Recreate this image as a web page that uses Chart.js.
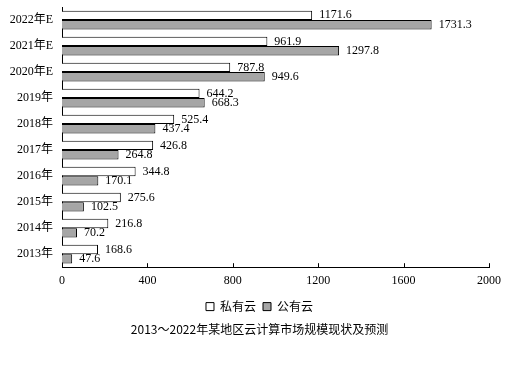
<!DOCTYPE html>
<html>
<head>
<meta charset="utf-8">
<script src="https://cdn.jsdelivr.net/npm/chart.js@4"></script>
<style>
  html, body { margin: 0; padding: 0; background: #fff; }
  #wrap { width: 519px; height: 367px; }
</style>
</head>
<body>
<div id="wrap"><canvas id="canva"></canvas></div>
<script>
const years = ["2022年E", "2021年E", "2020年E", "2019年", "2018年", "2017年", "2016年", "2015年", "2014年", "2013年"];
const privateCloud = [1171.6, 961.9, 787.8, 644.2, 525.4, 426.8, 344.8, 275.6, 216.8, 168.6];
const publicCloud = [1731.3, 1297.8, 949.6, 668.3, 437.4, 264.8, 170.1, 102.5, 70.2, 47.6];
const xTicks = [0, 400, 800, 1200, 1600, 2000];

const serif = "'Times New Roman', 'Liberation Serif', 'Noto Sans CJK SC', serif";
const sans = "'Noto Sans CJK SC', 'Noto Sans', sans-serif";

// value labels at the end of each bar
const barLabels = {
  id: "barLabels",
  afterDatasetsDraw(chart) {
    const ctx = chart.ctx;
    ctx.save();
    ctx.font = "12px " + serif;
    ctx.fillStyle = "#000";
    ctx.textAlign = "left";
    ctx.textBaseline = "middle";
    chart.data.datasets.forEach((ds, i) => {
      chart.getDatasetMeta(i).data.forEach((bar, j) => {
        ctx.fillText(ds.data[j].toFixed(1), bar.x + 7, bar.y);
      });
    });
    ctx.restore();
  }
};

// small tick marks pointing up into the plot
const innerTicks = {
  id: "innerTicks",
  afterDraw(chart) {
    const sc = chart.scales.x;
    const ctx = chart.ctx;
    ctx.save();
    ctx.strokeStyle = "#000";
    ctx.lineWidth = 1;
    sc.ticks.forEach((t, i) => {
      const x = Math.round(sc.getPixelForTick(i)) + 0.5;
      ctx.beginPath();
      ctx.moveTo(x, sc.top);
      ctx.lineTo(x, sc.top - 4);
      ctx.stroke();
    });
    ctx.restore();
  }
};

const data = {
  labels: years,
  datasets: [
    {
      label: "私有云",
      data: privateCloud,
      backgroundColor: "#ffffff",
      borderColor: "#000000",
      borderWidth: 1,
      categoryPercentage: 0.72,
      barPercentage: 1,
    },
    {
      label: "公有云",
      data: publicCloud,
      backgroundColor: "#a6a6a6",
      borderColor: "#000000",
      borderWidth: 1,
      categoryPercentage: 0.72,
      barPercentage: 1,
    },
  ],
};

const config = {
  type: "bar",
  data: data,
  plugins: [barLabels, innerTicks],
  options: {
    indexAxis: "y",
    responsive: true,
    maintainAspectRatio: false,
    animation: false,
    layout: { padding: { top: 7, left: 0, right: 0, bottom: 30 } },
    scales: {
      x: {
        min: 0,
        max: 2000,
        afterBuildTicks(scale) {
          scale.ticks = xTicks.map(v => ({ value: v }));
        },
        grid: { display: false, drawTicks: false },
        border: { display: true, color: "#000", width: 1 },
        ticks: {
          color: "#000",
          font: { family: serif, size: 12 },
          padding: 6,
          maxRotation: 0,
          callback: v => String(v),
        },
      },
      y: {
        grid: { display: false, drawTicks: false },
        border: { display: true, color: "#000", width: 1 },
        ticks: { color: "#000", font: { family: serif, size: 12 }, padding: 9 },
        afterFit(scale) {
          scale.width = 62;
          scale.paddingTop = 0;
          scale.paddingBottom = 0;
        },
      },
      yRight: {
        position: "right",
        type: "linear",
        grid: { display: false, drawTicks: false },
        border: { display: false },
        ticks: { display: false },
        afterFit(scale) {
          scale.width = 30;
          scale.paddingTop = 0;
          scale.paddingBottom = 0;
        },
      },
    },
    plugins: {
      legend: {
        display: true,
        position: "bottom",
        labels: {
          color: "#000",
          font: { family: sans, size: 12 },
          boxWidth: 8,
          boxHeight: 8,
          padding: 7,
        },
      },
      title: {
        display: true,
        position: "bottom",
        text: "2013～2022年某地区云计算市场规模现状及预测",
        color: "#000",
        font: { family: sans, size: 12, weight: "normal" },
        padding: { top: 0, bottom: 0 },
      },
      tooltip: { enabled: false },
    },
  },
};
const myChart = new Chart(document.getElementById("canva"), config);
</script>
</body>
</html>
